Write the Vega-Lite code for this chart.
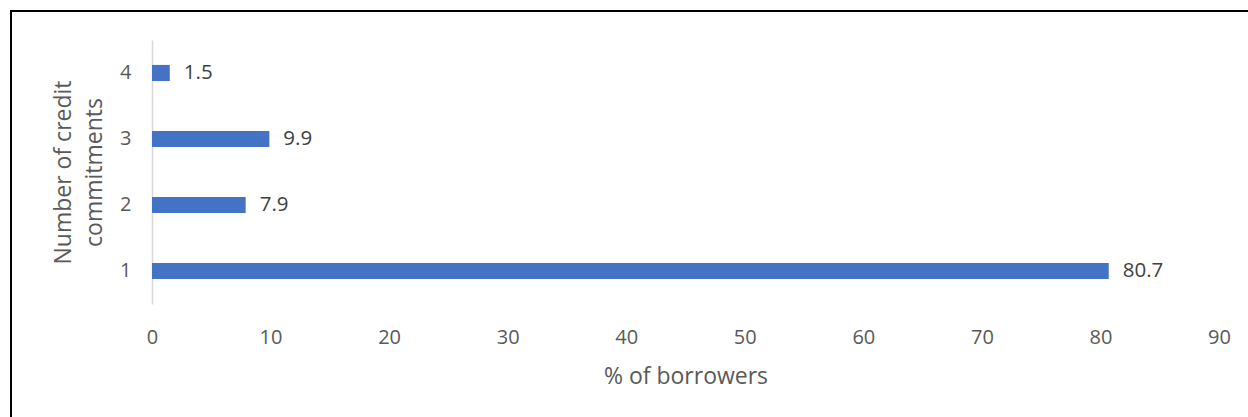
{
  "$schema": "https://vega.github.io/schema/vega-lite/v6.json",
  "width": 1241,
  "height": 410,
  "autosize": "none",
  "padding": {"left": 11, "top": 11, "right": -4, "bottom": -4},
  "background": "white",
  "config": {
    "view": {"stroke": "black", "strokeWidth": 2},
    "font": "Open Sans"
  },
  "data": {
    "values": [
      {"commitments": "1", "pct": 80.7},
      {"commitments": "2", "pct": 7.9},
      {"commitments": "3", "pct": 9.9},
      {"commitments": "4", "pct": 1.5}
    ]
  },
  "encoding": {
    "y": {
      "field": "commitments",
      "type": "nominal",
      "sort": ["4", "3", "2", "1"],
      "scale": {"range": [29, 293], "paddingInner": 0.755, "paddingOuter": 0.3775, "round": false},
      "axis": {
        "title": ["Number of credit", "commitments"],
        "offset": -141,
        "domainColor": "#d9d9d9",
        "domainWidth": 1.5,
        "ticks": false,
        "tickSize": 0,
        "grid": false,
        "labelFont": "Open Sans",
        "labelFontSize": 20,
        "labelColor": "#595959",
        "labelPadding": 21,
        "titleFont": "Open Sans",
        "titleFontSize": 23,
        "titleFontWeight": "normal",
        "titleColor": "#595959",
        "titleAngle": -90,
        "titleAlign": "center",
        "titleBaseline": "alphabetic",
        "titleLineHeight": 31,
        "titleX": -82,
        "titleY": 161
      }
    },
    "x": {
      "field": "pct",
      "type": "quantitative",
      "scale": {"domain": [0, 90], "range": [141, 1208], "nice": false, "zero": true},
      "axis": {
        "title": "% of borrowers",
        "values": [0, 10, 20, 30, 40, 50, 60, 70, 80, 90],
        "offset": -117,
        "domain": false,
        "ticks": false,
        "tickSize": 0,
        "grid": false,
        "labelFlush": false,
        "labelOverlap": false,
        "labelFont": "Open Sans",
        "labelFontSize": 20,
        "labelColor": "#595959",
        "labelPadding": 23,
        "labelBaseline": "top",
        "titleFont": "Open Sans",
        "titleFontSize": 23,
        "titleFontWeight": "normal",
        "titleColor": "#595959",
        "titleBaseline": "alphabetic",
        "titleX": 674.5,
        "titleY": 79
      }
    }
  },
  "layer": [
    {"mark": {"type": "bar", "color": "#4472C4"}},
    {
      "mark": {"type": "text", "align": "left", "baseline": "middle", "dx": 14, "fontSize": 20.5, "font": "Open Sans", "color": "#404040"},
      "encoding": {"text": {"field": "pct", "type": "quantitative", "format": ".1f"}}
    }
  ]
}
